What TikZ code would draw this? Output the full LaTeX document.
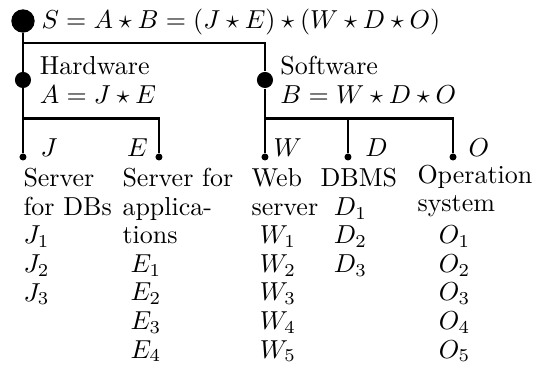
\documentclass[tikz,border=0pt]{standalone}
\usepackage{amsmath,amssymb}
\usepackage{xcolor}
\usepackage{tikz}
\usetikzlibrary{positioning,calc}
\tikzset{
rootdot/.style={
circle,
fill,
inner sep=0pt,
minimum size=9pt
},
branchdot/.style={
circle,
fill,
inner sep=0pt,
minimum size=6.2pt
},
leafdot/.style={
circle,
fill,
inner sep=0pt,
minimum size=2.7pt
},
txt/.style={
inner sep=0pt,
anchor=base west,
align=left,
font={\fontsize{10}{11}\selectfont}
},
link/.style={
thick
}
}

\begin{document}
\begin{tikzpicture}
\useasboundingbox (0,0) rectangle (7.225,-5.02);
\node[rootdot](S) at (0.311,-0.284){};
\node[branchdot](A) at (0.311,-1.082){};
\node[branchdot](B) at (3.585,-1.082){};
\node[leafdot](J) at (0.311,-2.124){};
\node[leafdot](E) at (2.151,-2.124){};
\node[leafdot](W) at (3.585,-2.124){};
\node[leafdot](D) at (4.708,-2.124){};
\node[leafdot](O) at (6.129,-2.124){};
\coordinate (sS) at (0.311,-0.582);
\coordinate (sA) at (0.311,-1.603);
\coordinate (sB) at (3.585,-1.603);

\draw[link](S)--(J);
\draw[link](sS)-|(B);
\draw[link](sA)-|(E);
\draw[link](B)--(W);
\foreach \y in {D,O}
\draw[link](sB)-|(\y);

% base of a multi-line node = its last line
\node[txt](s) at (0.555,-0.379){$S=A\star B=(J\star E)\star(W\star D\star O)$};
\node[txt](a) at (0.532,-1.394){Hardware\\$A=J\star E$};
\node[txt](b) at (3.788,-1.394){Software\\$B=W\star D\star O$};
\node[txt](j) at (0.541,-2.111){$J$};
\node[txt,anchor=base east](e) at (2.007,-2.111){$E$};
\node[txt](w) at (3.694,-2.111){$W$};
\node[txt](d) at (4.938,-2.111){$D$};
\node[txt](o) at (6.332,-2.111){$O$};

\node[txt](cJ) at (0.311,-4.073){Server\\for DBs\\$J_1$\\$J_2$\\$J_3$};
\node[txt](cE) at (1.651,-3.301){Server for\\applica-\\tions};
\node[txt](iE) at (1.759,-4.844){$E_1$\\$E_2$\\$E_3$\\$E_4$};
\node[txt](cW) at (3.396,-2.916){Web\\server};
\node[txt](iW) at (3.508,-4.844){$W_1$\\$W_2$\\$W_3$\\$W_4$\\$W_5$};
\node[txt](cD) at (4.330,-2.530){DBMS};
\node[txt](iD) at (4.510,-3.687){$D_1$\\$D_2$\\$D_3$};
\node[txt](cO) at (5.642,-2.868){Operation\\system};
\node[txt](iO) at (5.930,-4.844){$O_1$\\$O_2$\\$O_3$\\$O_4$\\$O_5$};
\end{tikzpicture}
\end{document}
